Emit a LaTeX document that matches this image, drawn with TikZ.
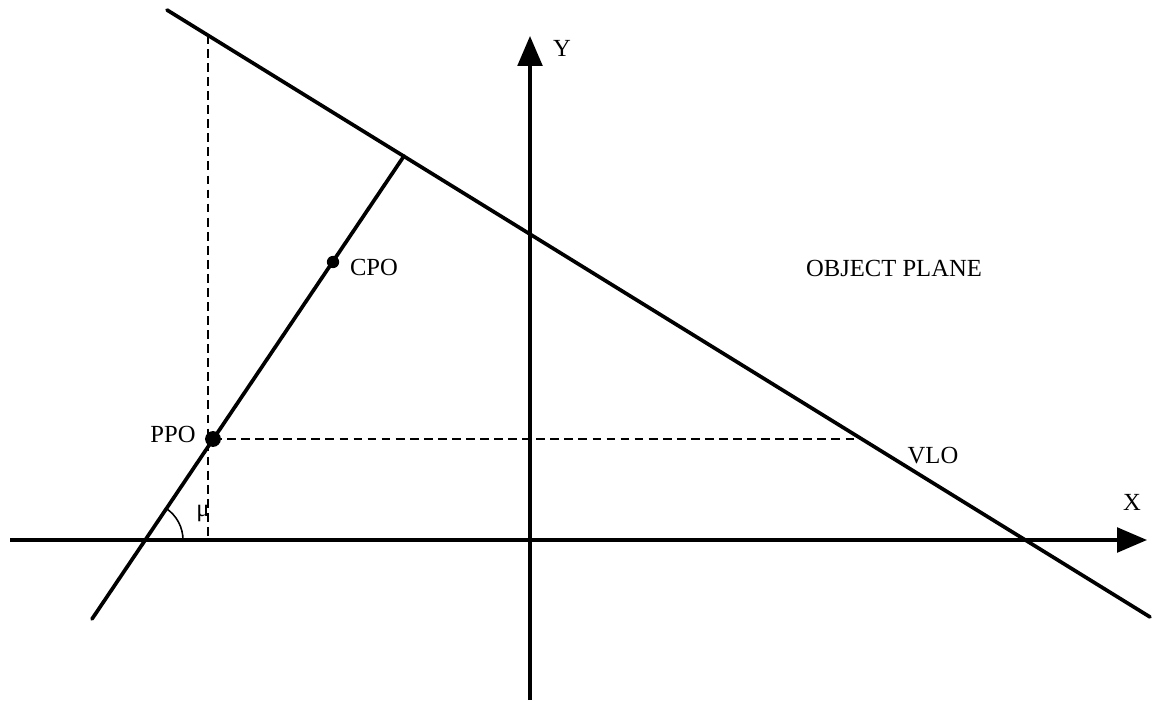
\documentclass[tikz,border=0pt]{standalone}
\usepackage{fontspec}
\setmainfont{Liberation Serif}
\usetikzlibrary{arrows.meta}

\begin{document}
\begin{tikzpicture}[x=0.02cm, y=-0.02cm, font=\fontsize{14}{16}\selectfont,
  axis/.style={line width=1.9pt, -{Triangle[length=17pt, width=14pt]}},
  planeline/.style={line width=2.1pt, line cap=round},
  guide/.style={line width=1.2pt, dash pattern=on 5pt off 3pt},
  spot/.style={circle, fill, inner sep=0pt, minimum size=#1}]
\useasboundingbox (0,0) rectangle (1155,705);
% axes
\coordinate (xstart) at (10,540);
\coordinate (xtip) at (1147,540);
\coordinate (ystart) at (530,700);
\coordinate (ytip) at (530,36);
\draw[axis] (xstart) -- (xtip);
\draw[axis] (ystart) -- (ytip);
\node (xlab) at (1132,502) {X};
\node (ylab) at (562,48) {Y};

% vanishing line of the object plane
\coordinate (vloA) at (167,10);
\coordinate (vloB) at (1150,617);
\draw[planeline] (vloA) -- (vloB);
\node (vlolab) at (933,456) {VLO};
\node (plane) at (894,268) {OBJECT PLANE};

% principal line through PPO and CPO
\coordinate (lineA) at (92,619);
\coordinate (lineB) at (404,156);
\draw[planeline] (lineA) -- (lineB);
\node[spot=9pt] (ppo) at (213,439) {};
\node[spot=7pt] (cpo) at (333,262) {};
\node (ppolab) at (173,434) {PPO};
\node (cpolab) at (374,267) {CPO};

% dashed projections
\coordinate (vtop) at (208,35);
\coordinate (vfoot) at (208,540);
\coordinate (hend) at (861,439);
\draw[guide] (vtop) -- (vfoot);
\draw[guide] (ppo.center) -- (hend);

% angle mu
\coordinate (cross) at (145,540);
\coordinate (arcstart) at (183,540);
\draw[line width=0.9pt] (arcstart) arc[start angle=0, end angle=-56, radius=38];
\node (mulab) at (203,513) {μ};
\end{tikzpicture}
\end{document}
